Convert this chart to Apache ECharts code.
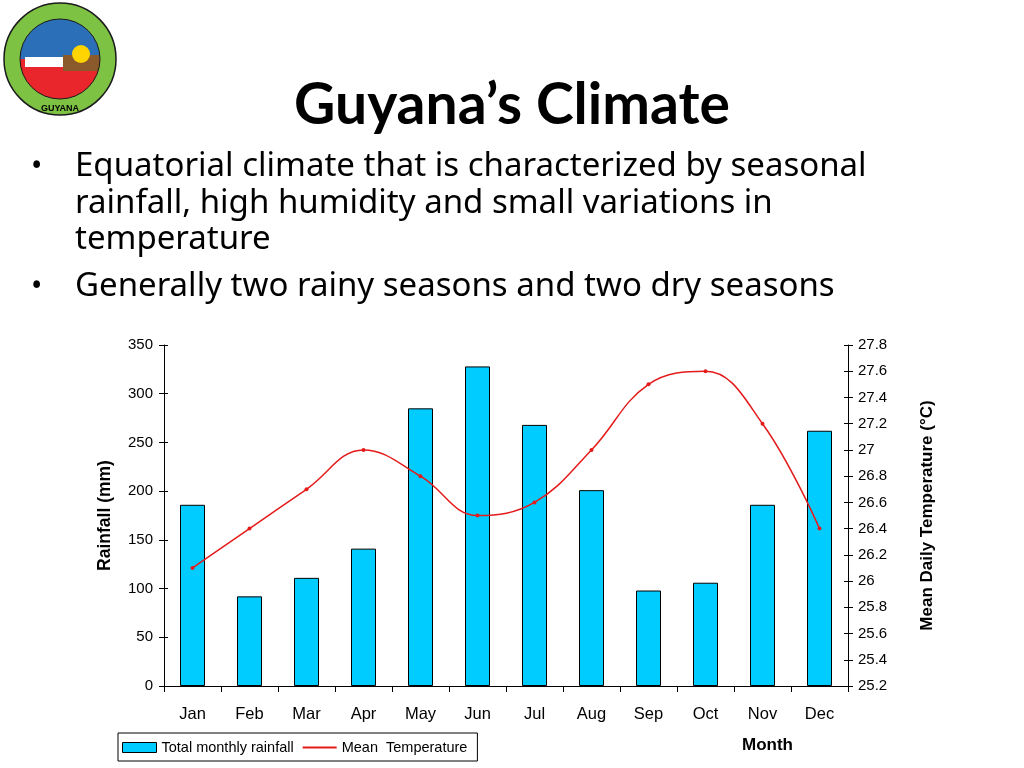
<!DOCTYPE html>
<html>
<head>
<meta charset="utf-8">
<script src="https://cdn.jsdelivr.net/npm/echarts@6/dist/echarts.min.js"></script>
<style>
html,body{margin:0;padding:0;background:#fff;}
#c{width:1024px;height:768px;}
</style>
</head>
<body>
<div id="c"></div>
<script>
const months = ['Jan','Feb','Mar','Apr','May','Jun','Jul','Aug','Sep','Oct','Nov','Dec'];
const rainfall = [186, 92, 111, 141, 285, 328, 268, 201, 98, 106, 186, 262];
const temperature = [26.1, 26.4, 26.7, 27.0, 26.8, 26.5, 26.6, 27.0, 27.5, 27.6, 27.2, 26.4];
const titleText = 'Guyana\u2019s Climate';
const bulletLines = [
  ['\u2022', 'Equatorial climate that is characterized by seasonal'],
  ['', 'rainfall, high humidity and small variations in'],
  ['', 'temperature'],
  ['\u2022', 'Generally two rainy seasons and two dry seasons']
];

const chart = echarts.init(document.getElementById('c'));
const bodyFont = '"Comic Sans MS", "Noto Sans", sans-serif';
const axFont = '"Liberation Sans", Arial, sans-serif';
const lineYs = [167, 204, 240, 287];
const graphics = [];
bulletLines.forEach((l, i) => {
  if (l[0]) graphics.push({type:'text', x:31, y:lineYs[i], style:{text:l[0], font:'30px ' + bodyFont, fill:'#000', verticalAlign:'middle'}});
  graphics.push({type:'text', x:75, y:lineYs[i], style:{text:l[1], font:'33px ' + bodyFont, fill:'#000', verticalAlign:'middle'}});
});
// logo (decorative)
graphics.push({type:'group', x:3, y:2, children:[
  {type:'circle', shape:{cx:57, cy:57, r:56}, style:{fill:'#7DC243', stroke:'#1a1a1a', lineWidth:1.5}},
  {type:'sector', shape:{cx:57, cy:57, r:40, startAngle:Math.PI, endAngle:2*Math.PI}, style:{fill:'#2A6FB8'}},
  {type:'sector', shape:{cx:57, cy:57, r:40, startAngle:0, endAngle:Math.PI}, style:{fill:'#E8262B'}},
  {type:'rect', shape:{x:22, y:55, width:40, height:10}, style:{fill:'#fff'}},
  {type:'rect', shape:{x:60, y:53, width:36, height:16}, style:{fill:'#8B5A2B'}},
  {type:'circle', shape:{cx:78, cy:52, r:9}, style:{fill:'#FFD400'}},
  {type:'circle', shape:{cx:57, cy:57, r:40}, style:{fill:'none', stroke:'#1a1a1a', lineWidth:1}},
  {type:'text', x:57, y:107, style:{text:'GUYANA', font:'bold 9px "Liberation Sans"', fill:'#000', align:'center', verticalAlign:'middle'}}
]});
graphics.push({type:'text', x:742, y:745, style:{text:'Month', font:'bold 17px ' + axFont, fill:'#000', verticalAlign:'middle'}});

const tickAxis = (min, max, interval, position) => ({
  type:'value', min:min, max:max, interval:interval, position:position,
  axisLine:{show:false}, axisLabel:{show:false}, splitLine:{show:false},
  axisTick:{show:true, inside:true, length:4, lineStyle:{color:'#000'}}
});

chart.setOption({
  animation:false,
  backgroundColor:'#fff',
  title:{text:titleText, left:'center', top:72, itemGap:0,
    textStyle:{fontFamily:'Lato, "Open Sans", sans-serif', fontWeight:'bold', fontSize:57, color:'#000'}},
  graphic:graphics,
  legend:{
    left:118, top:733, itemGap:8, padding:[7,10,6,4],
    borderColor:'#000', borderWidth:1, borderRadius:0,
    itemWidth:34, itemHeight:10,
    textStyle:{fontFamily:axFont, fontSize:14.5, color:'#000'},
    data:[
      {name:'Total monthly rainfall', icon:'rect', itemStyle:{borderColor:'#000', borderWidth:1}},
      {name:'Mean  Temperature', itemStyle:{opacity:0}}
    ]
  },
  grid:{left:164, right:176, top:345, bottom:82, containLabel:false},
  xAxis:{
    type:'category', data:months, boundaryGap:true,
    axisLine:{lineStyle:{color:'#000', width:1}},
    axisTick:{show:true, length:6, alignWithLabel:false, lineStyle:{color:'#000'}},
    axisLabel:{color:'#000', fontFamily:axFont, fontSize:16.5, margin:20}
  },
  yAxis:[
    {type:'value', min:0, max:350, interval:50,
     name:'Rainfall (mm)', nameLocation:'middle', nameGap:50,
     nameTextStyle:{fontFamily:axFont, fontWeight:'bold', fontSize:17.5, color:'#000'},
     axisLine:{show:true, lineStyle:{color:'#000'}},
     axisTick:{show:true, length:5, lineStyle:{color:'#000'}},
     axisLabel:{color:'#000', fontFamily:axFont, fontSize:15, margin:11},
     splitLine:{show:false}},
    {type:'value', min:25.2, max:27.8, interval:0.2, position:'right',
     name:'Mean Daily Temperature (\u00B0C)', nameLocation:'middle', nameGap:71, nameRotate:90,
     nameTextStyle:{fontFamily:axFont, fontWeight:'bold', fontSize:17, color:'#000'},
     axisLine:{show:true, lineStyle:{color:'#000'}},
     axisTick:{show:true, length:5, lineStyle:{color:'#000'}},
     axisLabel:{color:'#000', fontFamily:axFont, fontSize:15, margin:10},
     splitLine:{show:false}},
    tickAxis(0, 350, 50, 'left'),
    tickAxis(25.2, 27.8, 0.2, 'right')
  ],
  series:[
    {name:'Total monthly rainfall', type:'bar', data:rainfall, barWidth:25, yAxisIndex:0,
     itemStyle:{color:'#00CCFF', borderColor:'#000', borderWidth:1}},
    {name:'Mean  Temperature', type:'line', data:temperature, yAxisIndex:1, smooth:0.4,
     symbol:'circle', symbolSize:4, showSymbol:true,
     lineStyle:{color:'#E41B1B', width:1.5}, itemStyle:{color:'#E41B1B'}}
  ]
});
</script>
</body>
</html>
